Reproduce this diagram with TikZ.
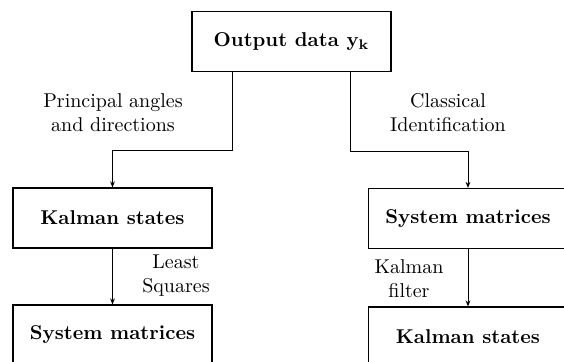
\documentclass[tikz,border=0pt]{standalone}
\usepackage{amsmath,amssymb}
\usepackage{tikz}
\usetikzlibrary{positioning,calc,arrows.meta}

\begin{document}
\begin{tikzpicture}[x=0.5pt,y=-0.5pt,
    box/.style={rectangle,draw,line width=0.6pt,minimum width=99.5pt,minimum height=30pt,font=\bfseries},
    lbl/.style={align=center,font=\normalsize,inner sep=0pt},
    arr/.style={-{Stealth[length=3pt,width=2.4pt]},line width=0.5pt}]
\useasboundingbox (0,0) rectangle (564,361);
\clip (0,0) rectangle (564,361);
\node (out) [box] at (291.5,41.5) {Output data $\mathbf{y_k}$};
\node (kalL) [box] at (112.5,218) {Kalman states};
\node (sysL) [box] at (112.5,335) {System matrices};
\node (sysR) [box] at (468,218.5) {System matrices};
\node (kalR) [box] at (468,337) {Kalman states};
\coordinate (bendL) at (232,150);
\coordinate (bendR) at (350,151);
\draw[arr] (bendL |- out.south) -- (bendL) -| (kalL.north);
\draw[arr] (bendR |- out.south) -- (bendR) -| (sysR.north);
\draw[arr] (kalL) -- (sysL);
\draw[arr] (sysR) -- (kalR);
\node (pad) [lbl] at (113,113) {Principal angles\\and directions};
\node (cid) [lbl] at (448,113) {Classical\\Identification};
\node (ls) [lbl] at (176,276) {Least\\Squares};
\node (kf) [lbl] at (409,279) {Kalman\\filter};
\end{tikzpicture}
\end{document}
